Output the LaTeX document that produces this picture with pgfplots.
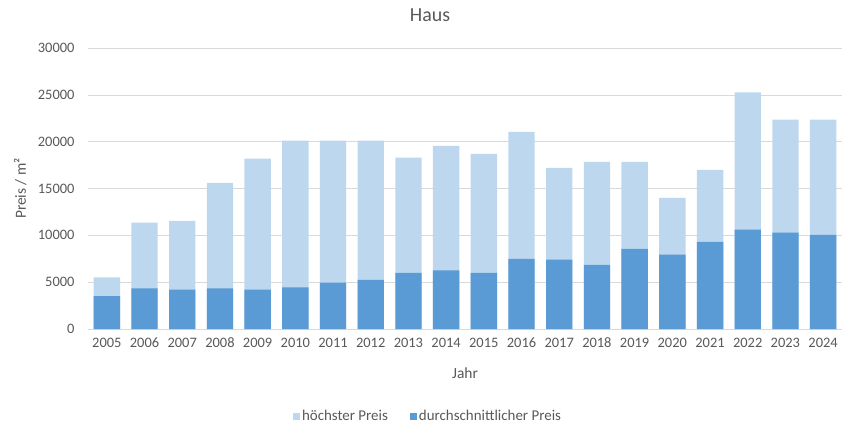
\documentclass[border=0pt]{standalone}
\usepackage{pgfplots}
\pgfplotsset{compat=1.18}
\usepackage{fontspec}
\setmainfont{Carlito}
\definecolor{txt}{HTML}{595959}
\definecolor{gridc}{HTML}{D9D9D9}
\definecolor{light}{HTML}{BDD7EE}
\definecolor{dark}{HTML}{5B9BD5}
\begin{document}
\begin{tikzpicture}[x=1bp,y=1bp]
\path[use as bounding box] (-88bp,-102bp) rectangle (767bp,329bp);
\begin{axis}[
  at={(0,0)}, anchor=south west,
  scale only axis, width=754bp, height=281bp,
  xmin=2004.5, xmax=2024.5, ymin=0, ymax=30000,
  xtick={2005,...,2024}, ytick={0,5000,...,30000},
  scaled y ticks=false,
  /pgf/number format/assume math mode=true,
  /pgf/number format/1000 sep={},
  yticklabel={\pgfmathprintnumber[fixed,precision=0,1000 sep={}]{\tick}},
  ymajorgrids, grid style={gridc, line width=0.6pt},
  axis x line*=bottom, axis y line*=left,
  x axis line style={gridc, line width=0.8pt, -},
  y axis line style={draw=none},
  tick style={draw=none},
  ticklabel style={font=\fontsize{14.5}{16}\selectfont, text=txt},
  xticklabel style={yshift=-1bp},
  yticklabel style={xshift=-10bp},
  ylabel={Preis / m²}, xlabel={Jahr},
  label style={font=\fontsize{15.5}{17}\selectfont, text=txt},
  ylabel style={at={(axis description cs:-0.09,0.5)}, anchor=center},
  xlabel style={at={(axis description cs:0.5,-0.157)}, anchor=center},
  ybar, bar width=0.7, bar shift=0pt,
  legend style={at={(axis description cs:0.451,-0.31)}, anchor=center, draw=none, legend columns=2,
    font=\fontsize{15}{16}\selectfont, text=txt,
    /tikz/every even column/.append style={column sep=20bp}},
  legend image code/.code={\fill[#1] (2bp,-3.5bp) rectangle (9bp,3.5bp);},
]
\addplot[fill=light, draw=none] coordinates {
(2005,5500) (2006,11350) (2007,11550) (2008,15600) (2009,18200) (2010,20100) (2011,20100) (2012,20100) (2013,18300) (2014,19550)
(2015,18700) (2016,21050) (2017,17200) (2018,17850) (2019,17850) (2020,14000) (2021,17000) (2022,25250) (2023,22350) (2024,22350)};
\addlegendentry{höchster Preis}
\addplot[fill=dark, draw=none] coordinates {
(2005,3500) (2006,4350) (2007,4200) (2008,4350) (2009,4200) (2010,4450) (2011,4950) (2012,5250) (2013,6000) (2014,6250)
(2015,6000) (2016,7500) (2017,7400) (2018,6850) (2019,8550) (2020,7950) (2021,9300) (2022,10600) (2023,10300) (2024,10050)};
\addlegendentry{durchschnittlicher Preis}
\end{axis}
\node[text=txt, font=\fontsize{20}{22}\selectfont] at (342bp,314bp) {Haus};
\end{tikzpicture}
\end{document}
